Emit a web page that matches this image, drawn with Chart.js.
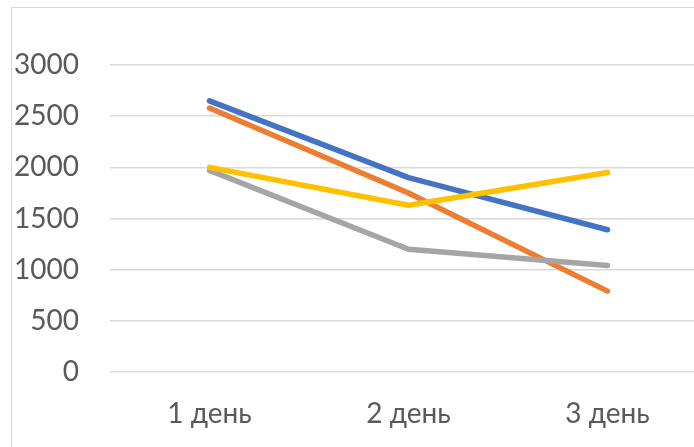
<!DOCTYPE html>
<html>
<head>
<meta charset="utf-8">
<script src="https://cdn.jsdelivr.net/npm/chart.js@4"></script>
<style>
  html, body { margin: 0; padding: 0; background: #ffffff; overflow: hidden; width: 694px; height: 447px; }
  #frame { position: absolute; left: 11px; top: 7px; width: 900px; height: 900px; border: 1.5px solid #d9d9d9; box-sizing: border-box; }
  #wrap { position: absolute; left: 0; top: 0; width: 707px; height: 447px; }
</style>
</head>
<body>
<div id="frame"></div>
<div id="wrap"><canvas id="c" width="707" height="447"></canvas></div>
<script>
const categories = ["1 день", "2 день", "3 день"];
const series1 = [2650, 1900, 1390];
const series2 = [2580, 1750, 790];
const series3 = [1970, 1200, 1040];
const series4 = [2000, 1630, 1950];
const yTicks = [0, 500, 1000, 1500, 2000, 2500, 3000];

const colors = ["#4472C4", "#ED7D31", "#A5A5A5", "#FFC000"];
const allSeries = [series1, series2, series3, series4];

function ds(data, i) {
  return {
    label: "Ряд " + (i + 1),
    data: data,
    borderColor: colors[i],
    backgroundColor: colors[i],
    borderWidth: 5.5,
    pointRadius: 0,
    tension: 0,
    borderCapStyle: "round",
    borderJoinStyle: "round",
    fill: false,
    order: 3 - i
  };
}

new Chart(document.getElementById("c"), {
  type: "line",
  data: {
    labels: categories,
    datasets: allSeries.map(ds)
  },
  options: {
    responsive: false,
    animation: false,
    layout: { padding: { top: 65, right: 0, bottom: 0, left: 0 } },
    plugins: { legend: { display: false }, tooltip: { enabled: false } },
    scales: {
      x: {
        offset: true,
        grid: { display: false, drawTicks: false },
        border: { display: false },
        ticks: { color: "#595959", font: { family: "Lato", size: 28 }, padding: 25, maxRotation: 0 },
        afterFit: (s) => { s.height = 75; }
      },
      y: {
        min: 0,
        max: 3000,
        afterBuildTicks: (s) => { s.ticks = yTicks.map(v => ({ value: v })); },
        grid: { color: "#d9d9d9", lineWidth: 1.5, drawTicks: false },
        border: { display: false },
        ticks: { color: "#595959", font: { family: "Lato", size: 28 }, padding: 31, callback: (v) => String(v) },
        afterFit: (s) => { s.width = 110; }
      }
    }
  }
});
</script>
</body>
</html>
